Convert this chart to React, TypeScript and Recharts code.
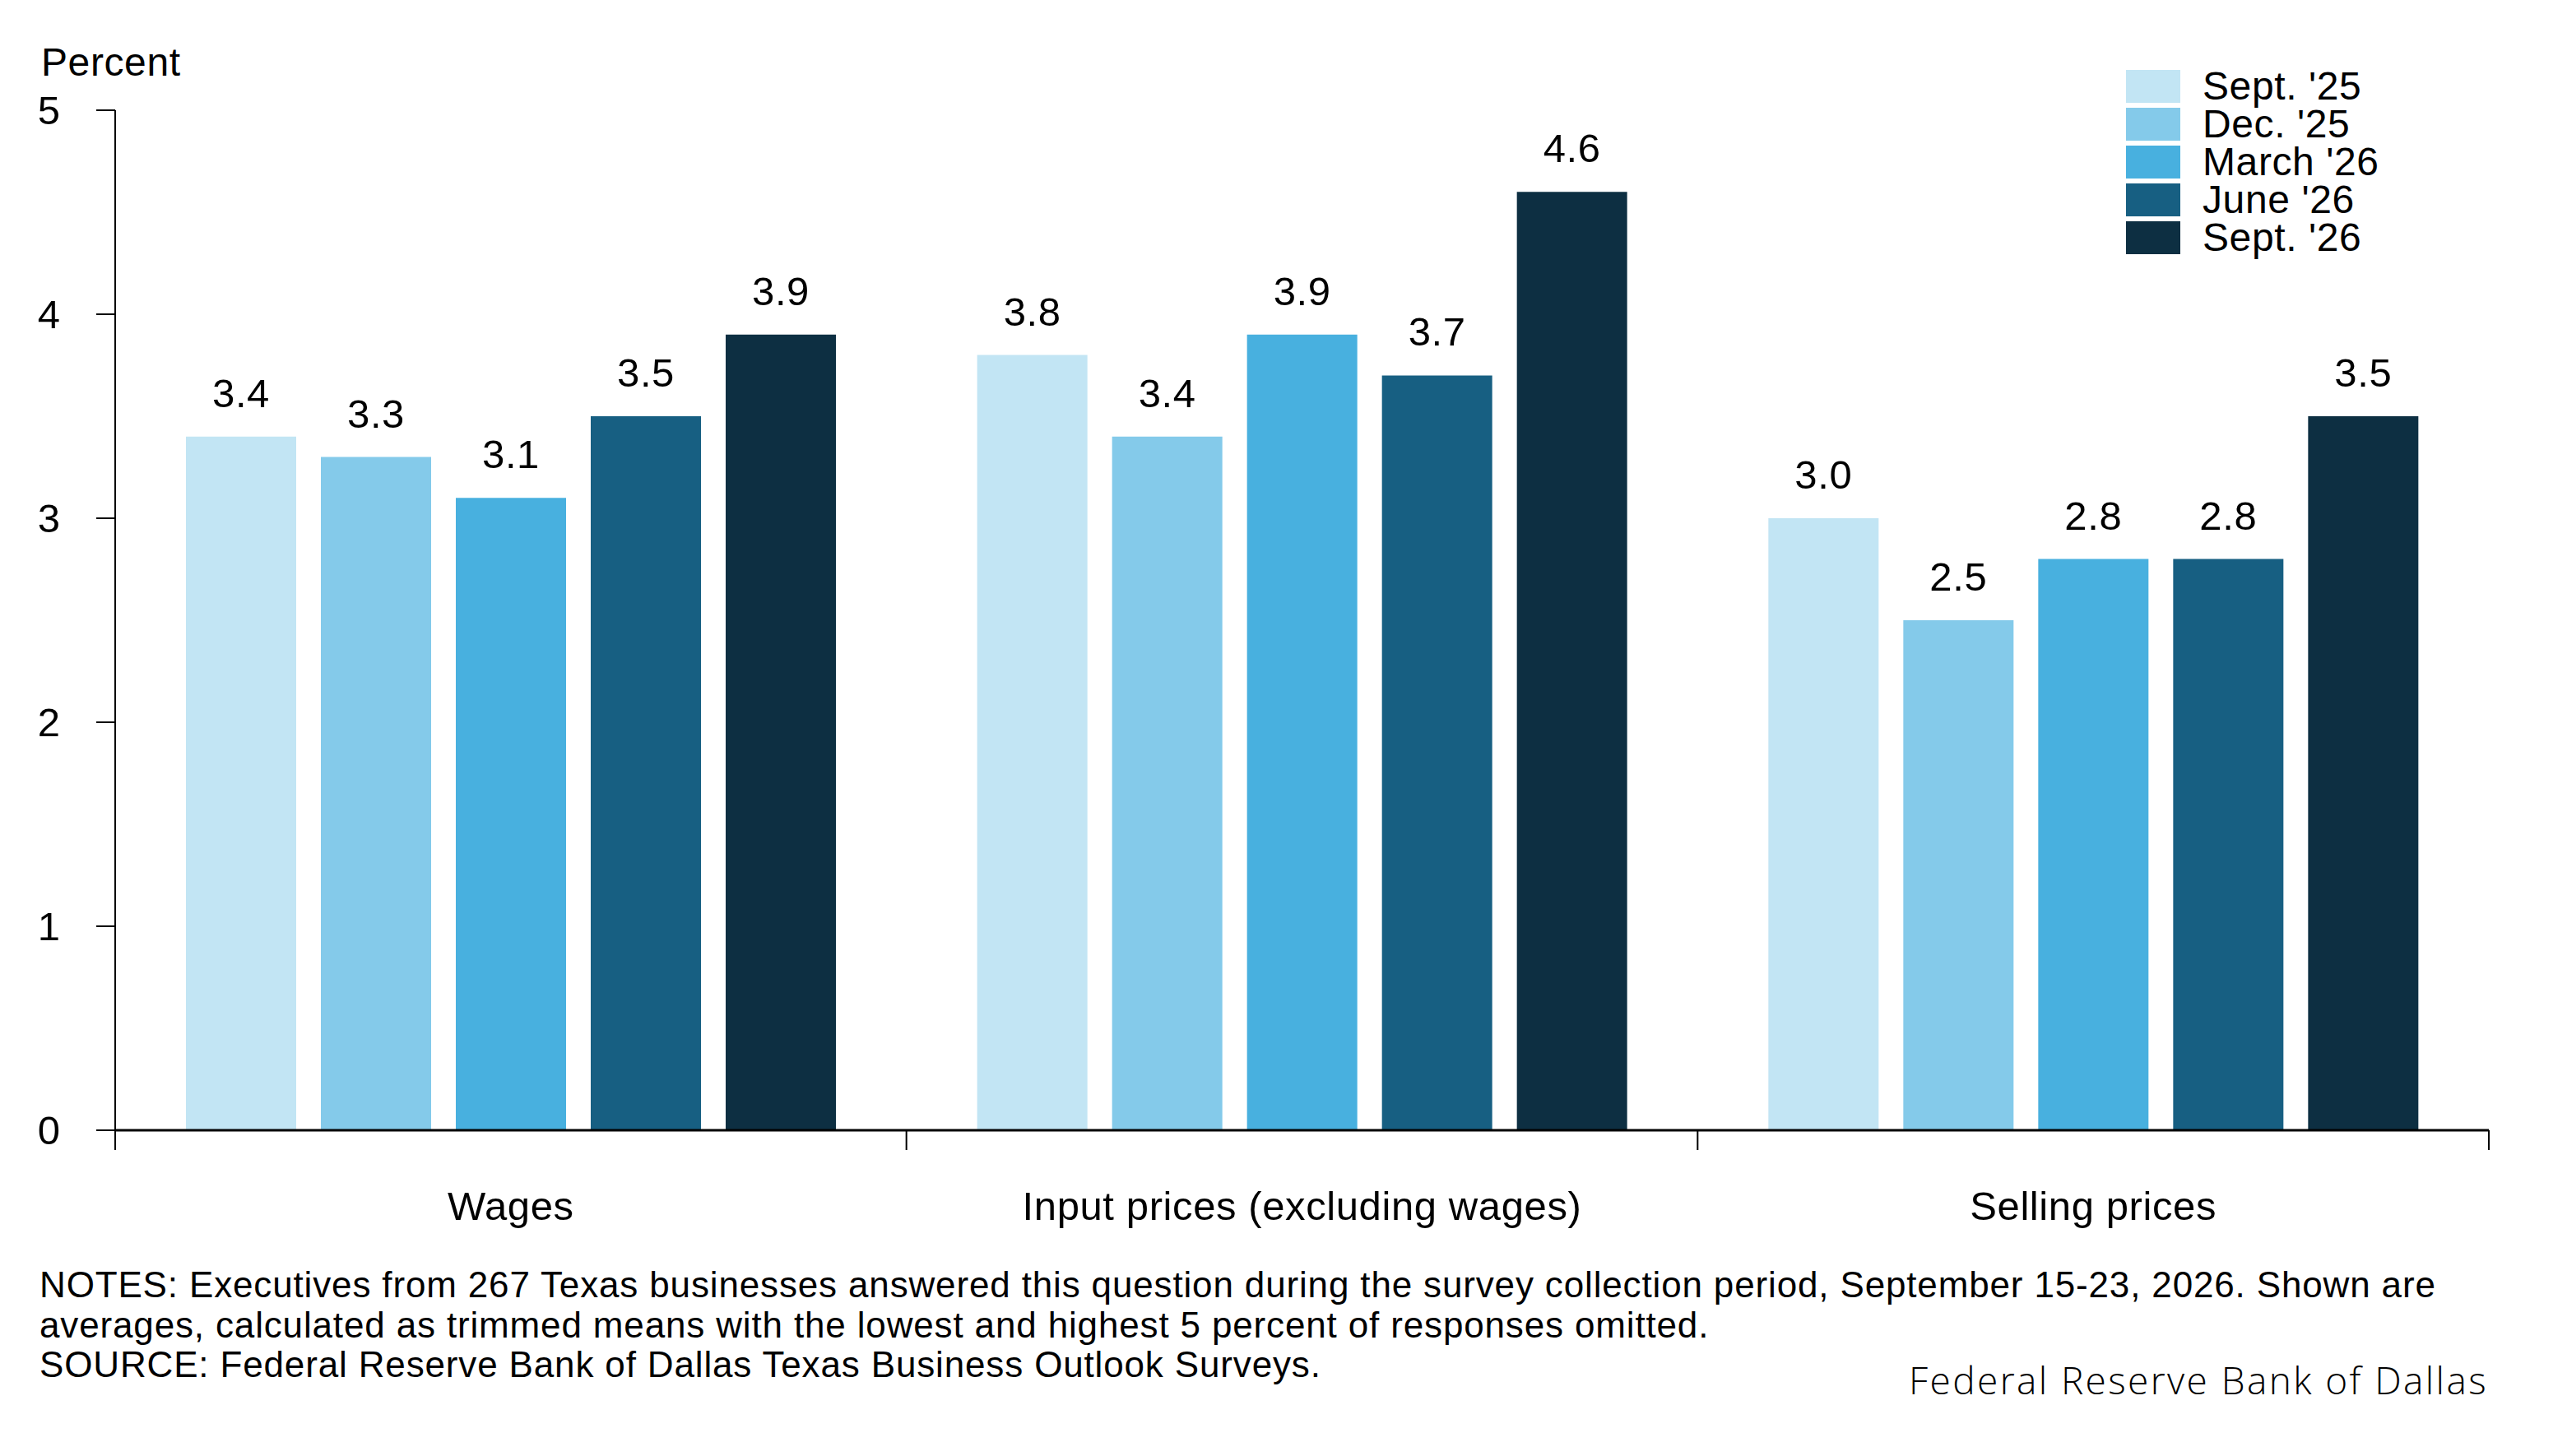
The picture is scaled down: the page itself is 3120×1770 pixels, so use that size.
import { BarChart, Bar, XAxis, YAxis, Legend, LabelList } from 'recharts';

// Survey question categories along the x-axis
const CATEGORIES = ['Wages', 'Input prices (excluding wages)', 'Selling prices'];

// One series per survey round, values in percent (same order as CATEGORIES)
const SERIES_NAMES = ["Sept. '25", "Dec. '25", "March '26", "June '26", "Sept. '26"];
const SEPT_25 = [3.4, 3.8, 3.0];
const DEC_25 = [3.3, 3.4, 2.5];
const MARCH_26 = [3.1, 3.9, 2.8];
const JUNE_26 = [3.5, 3.7, 2.8];
const SEPT_26 = [3.9, 4.6, 3.5];

const Y_TICKS = [0, 1, 2, 3, 4, 5];

// Light -> dark blues, oldest survey round first
const COLORS = ['#c2e5f4', '#84caea', '#48b0df', '#175f82', '#0d2f42'];

const SERIES = [SEPT_25, DEC_25, MARCH_26, JUNE_26, SEPT_26];
const KEYS = ['s0', 's1', 's2', 's3', 's4'];

const rows = CATEGORIES.map((name, i) => {
  const row: Record<string, string | number> = { name };
  SERIES.forEach((values, s) => { row[KEYS[s]] = values[i]; });
  return row;
});

const FONT = '"Liberation Sans", Arial, Helvetica, sans-serif';
const SPACING = 0.6; // the original face runs a little wider than Liberation Sans

// Category label at the band centre, with tick marks at the band edges
function CategoryTick(props: any) {
  const { x, y, payload, index, visibleTicksCount } = props;
  const half = payload?.offset ?? 0;
  return (
    <g>
      <line x1={x - half} x2={x - half} y1={y} y2={y + 24} stroke="#000" strokeWidth={2} />
      {index === visibleTicksCount - 1 && (
        <line x1={x + half} x2={x + half} y1={y} y2={y + 24} stroke="#000" strokeWidth={2} />
      )}
      <text
        x={x}
        y={y + 109}
        textAnchor="middle"
        fontSize={49}
        fontFamily={FONT}
        letterSpacing={SPACING}
        fill="#000"
      >
        {payload.value}
      </text>
    </g>
  );
}

function LegendBox({ payload }: any) {
  return (
    <div style={{ fontFamily: FONT }}>
      {(payload ?? []).map((item: any) => (
        <div key={item.value} style={{ display: 'flex', alignItems: 'center', height: 46 }}>
          <span style={{ display: 'inline-block', width: 66, height: 40, background: item.color, marginRight: 27 }} />
          <span style={{ fontSize: 48, lineHeight: '46px', letterSpacing: SPACING, color: '#000', whiteSpace: 'nowrap' }}>
            {item.value}
          </span>
        </div>
      ))}
    </div>
  );
}

export default function App() {
  return (
    <div style={{ position: 'relative', width: 3120, height: 1770, background: '#fff', fontFamily: FONT }}>
      <style>{'body { margin: 0; }'}</style>

      <div style={{ position: 'absolute', left: 50, top: 52, fontSize: 48, lineHeight: '48px', letterSpacing: SPACING, color: '#000' }}>
        Percent
      </div>

      <BarChart
        width={3120}
        height={1770}
        data={rows}
        margin={{ top: 134, right: 95, bottom: 266, left: 0 }}
        barGap={30}
        barSize={134}
      >
        <XAxis
          dataKey="name"
          height={130}
          interval={0}
          tickLine={false}
          tickSize={0}
          tickMargin={0}
          axisLine={{ stroke: '#000', strokeWidth: 3 }}
          tick={<CategoryTick />}
        />
        <YAxis
          width={140}
          domain={[0, 5]}
          ticks={Y_TICKS}
          interval={0}
          tickSize={23}
          tickMargin={44}
          axisLine={{ stroke: '#000', strokeWidth: 2 }}
          tickLine={{ stroke: '#000', strokeWidth: 2 }}
          tick={{ fill: '#000', fontSize: 49, fontFamily: FONT }}
        />
        <Legend
          layout="vertical"
          align="center"
          verticalAlign="middle"
          itemSorter={(item: any) => SERIES_NAMES.indexOf(item.value)}
          content={<LegendBox />}
          wrapperStyle={{ left: 2584, top: 82, width: 'auto', height: 'auto' }}
        />
        {KEYS.map((key, s) => (
          <Bar key={key} dataKey={key} name={SERIES_NAMES[s]} fill={COLORS[s]} isAnimationActive={false}>
            <LabelList
              dataKey={key}
              position="top"
              offset={36}
              formatter={(v: any) => Number(v).toFixed(1)}
              fill="#000"
              fontSize={49}
              fontFamily={FONT}
              letterSpacing={SPACING}
            />
          </Bar>
        ))}
      </BarChart>

      <div
        style={{
          position: 'absolute', left: 48, top: 1538, width: 3050, fontSize: 44, lineHeight: '48.5px',
          letterSpacing: 0.85, color: '#000', whiteSpace: 'nowrap',
        }}
      >
        NOTES: Executives from 267 Texas businesses answered this question during the survey collection period, September 15-23, 2026. Shown are
        <br />
        averages, calculated as trimmed means with the lowest and highest 5 percent of responses omitted.
        <br />
        SOURCE: Federal Reserve Bank of Dallas Texas Business Outlook Surveys.
      </div>

      <div
        style={{
          position: 'absolute', right: 3120 - 3024, top: 1653, fontSize: 46, lineHeight: '48px', fontWeight: 300,
          fontFamily: '"Open Sans", sans-serif', letterSpacing: 2.4, color: '#000', whiteSpace: 'nowrap',
        }}
      >
        Federal Reserve Bank of Dallas
      </div>
    </div>
  );
}
